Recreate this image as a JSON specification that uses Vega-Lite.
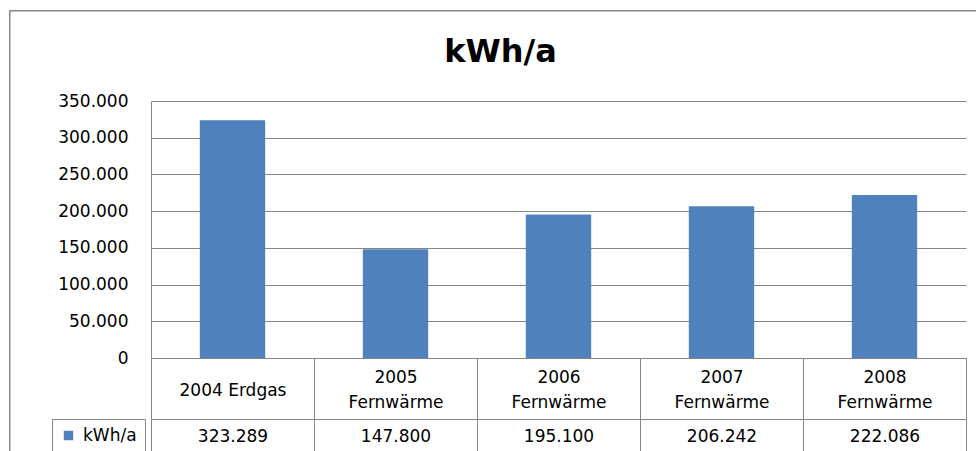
{
  "$schema": "https://vega.github.io/schema/vega-lite/v6.json",
  "width": 815,
  "height": 257,
  "autosize": {"type": "none"},
  "padding": {"left": 151, "top": 101, "right": 10, "bottom": 93},
  "background": "white",
  "title": {"text": "kWh/a", "font": "DejaVu Sans", "fontSize": 32, "fontWeight": "bold", "color": "black", "anchor": "middle", "frame": "group", "baseline": "alphabetic", "offset": 0, "dy": 84, "dx": -58},
  "data": {"values": [
    {"kategorie": "2004 Erdgas", "kwh": 323289, "serie": "kWh/a"},
    {"kategorie": "2005 Fernwärme", "kwh": 147800, "serie": "kWh/a"},
    {"kategorie": "2006 Fernwärme", "kwh": 195100, "serie": "kWh/a"},
    {"kategorie": "2007 Fernwärme", "kwh": 206242, "serie": "kWh/a"},
    {"kategorie": "2008 Fernwärme", "kwh": 222086, "serie": "kWh/a"}
  ]},
  "layer": [
    {
      "mark": {"type": "bar", "color": "#4F81BD", "width": {"band": 0.4}},
      "encoding": {
        "x": {"field": "kwh", "type": "ordinal", "sort": null,
          "scale": {"paddingInner": 0, "paddingOuter": 0},
          "axis": {"orient": "bottom", "offset": 61, "title": null, "grid": false,
            "labelExpr": "isValid(datum.value) ? replace(format(datum.value, ','), ',', '.') : ''",
            "tickBand": "extent", "tickSize": 40, "tickColor": "#868686", "domainColor": "#868686",
            "labelPadding": -23, "labelBaseline": "middle", "labelAngle": 0,
            "labelFontSize": 17, "labelFont": "DejaVu Sans", "labelColor": "black"}},
        "y": {"field": "kwh", "type": "quantitative", "stack": null, "scale": {"domain": [0, 350000]},
          "axis": {"title": null, "values": [0, 50000, 100000, 150000, 200000, 250000, 300000, 350000],
            "grid": true, "gridColor": "#868686", "domainColor": "#868686", "ticks": false, "labelPadding": 23,
            "labelFontSize": 17, "labelFont": "DejaVu Sans", "labelColor": "black",
            "labelExpr": "replace(format(datum.value, ','), ',', '.')"}},
        "stroke": {"field": "kwh", "type": "quantitative", "scale": {"range": ["transparent", "transparent"]},
          "legend": {"orient": "none", "legendX": -142, "legendY": -91, "title": null,
            "labelExpr": "''", "labelFontSize": 0, "labelOpacity": 0,
            "direction": "vertical", "gradientLength": 470, "gradientThickness": 990,
            "gradientStrokeColor": "#878787", "gradientStrokeWidth": 1,
            "padding": 1, "strokeColor": "#878787"}}
      }
    },
    {
      "mark": {"type": "bar", "width": {"band": 0.4}},
      "encoding": {
        "x": {"field": "kategorie", "type": "nominal", "sort": null,
          "scale": {"paddingInner": 0, "paddingOuter": 0},
          "axis": {"orient": "bottom", "offset": 0, "title": null, "grid": false,
            "labelExpr": "isValid(datum.value) ? (datum.value == '2004 Erdgas' ? datum.value : split(datum.value, ' ')) : ''",
            "tickBand": "extent", "tickSize": 61, "tickColor": "#868686", "domainColor": "#868686",
            "labelPadding": {"condition": {"test": "datum.value == '2004 Erdgas'", "value": -29}, "value": -42},
            "labelBaseline": "middle", "labelLineHeight": 25, "labelAngle": 0,
            "labelFontSize": 17, "labelFont": "DejaVu Sans", "labelColor": "black"}},
        "y": {"field": "kwh", "type": "quantitative", "stack": null, "scale": {"domain": [0, 350000]},
          "axis": {"title": null, "values": [0, 50000, 100000, 150000, 200000, 250000, 300000, 350000],
            "grid": true, "gridColor": "#868686", "domainColor": "#868686", "ticks": false, "labelPadding": 23,
            "labelFontSize": 17, "labelFont": "DejaVu Sans", "labelColor": "black",
            "labelExpr": "replace(format(datum.value, ','), ',', '.')"}},
        "color": {"field": "serie", "type": "nominal", "scale": {"range": ["#4F81BD"]},
          "legend": {"orient": "none", "legendX": -99, "legendY": 318, "title": null,
            "strokeColor": "#868686", "padding": 8, "symbolType": "square", "symbolSize": 90,
            "symbolStrokeWidth": 0, "labelOffset": 6, "labelFontSize": 17, "labelFont": "DejaVu Sans",
            "labelColor": "black", "labelExpr": "datum.label + '     '"}}
      }
    }
  ],
  "resolve": {"scale": {"x": "independent"}, "axis": {"x": "independent"}},
  "config": {"view": {"stroke": null}}
}
